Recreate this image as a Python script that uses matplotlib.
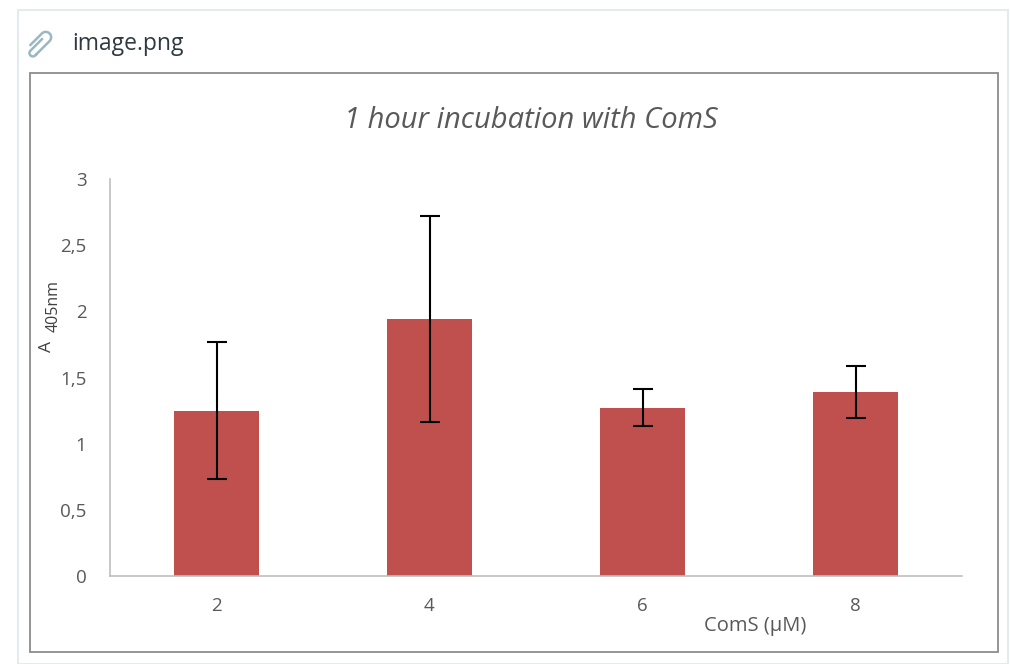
import numpy as np
import matplotlib
matplotlib.use("Agg")
import matplotlib.pyplot as plt
from matplotlib.patches import Rectangle

# data
concentrations = ["2", "4", "6", "8"]
absorbance = [1.25, 1.94, 1.27, 1.39]
errors = [0.52, 0.78, 0.14, 0.195]
yticks = [0, 0.5, 1, 1.5, 2, 2.5, 3]
ytick_labels = ["0", "0,5", "1", "1,5", "2", "2,5", "3"]

W, H = 1010, 664
fig = plt.figure(figsize=(W / 100, H / 100), dpi=100)
fig.patch.set_facecolor("white")

def fx(px):
    return px / W

def fy(py):
    return 1 - py / H

# outer panel of the screenshot
fig.patches.append(Rectangle((fx(18), fy(664)), fx(990), fy(10) - fy(664),
                             transform=fig.transFigure, fill=False,
                             edgecolor="#e3ebee", linewidth=1.5))
fig.text(fx(72), fy(44), "image.png", fontsize=16.5, color="#2f3a40",
         family="Open Sans", weight="medium", va="center", ha="left")

# little paperclip icon
t = np.linspace(0, np.pi, 30)
clip_x, clip_y, sc = 40, 43, 1.35
ang = np.deg2rad(45)
def rot(xs, ys):
    xs, ys = xs * sc, ys * sc
    xr = xs * np.cos(ang) - ys * np.sin(ang)
    yr = xs * np.sin(ang) + ys * np.cos(ang)
    return fx(clip_x + xr), fy(clip_y + yr)
outer_x = np.concatenate([np.full(2, -4.0), 4 * np.cos(np.pi - t), np.full(2, 4.0)])
outer_y = np.concatenate([[6, -6], -6 - 4 * np.sin(t), [-6, 8]])
ox, oy = rot(outer_x, outer_y)
fig.lines.append(plt.Line2D(ox, oy, transform=fig.transFigure, color="#9bb7bf", lw=1.8))
inner_x = np.concatenate([np.full(2, 4.0), 2.5 * np.cos(t) + 1.5, np.full(2, -1.0)])
inner_y = np.concatenate([[8, 9], 9 + 2.5 * np.sin(t), [9, -3]])
ix, iy = rot(inner_x, inner_y)
fig.lines.append(plt.Line2D(ix, iy, transform=fig.transFigure, color="#9bb7bf", lw=1.8))

# chart border
fig.patches.append(Rectangle((fx(30), fy(652)), fx(968), fy(73) - fy(652),
                             transform=fig.transFigure, fill=False,
                             edgecolor="#8c8c8c", linewidth=1.3))

ax = fig.add_axes([fx(110), fy(576), fx(962) - fx(110), fy(179) - fy(576)])
x = np.arange(len(concentrations))
ax.bar(x, absorbance, width=0.4, color="#c0504d", zorder=2)
ax.errorbar(x, absorbance, yerr=errors, fmt="none", ecolor="black",
            elinewidth=1.5, capsize=7, capthick=1.5, zorder=3)

ax.set_xlim(-0.5, 3.5)
ax.set_ylim(0, 3)
ax.set_xticks(x)
ax.set_xticklabels(concentrations)
ax.set_yticks(yticks)
ax.set_yticklabels(ytick_labels)
ax.tick_params(length=0, labelsize=13.5, labelcolor="#595959")
for lbl in ax.get_xticklabels() + ax.get_yticklabels():
    lbl.set_family("Open Sans")
ax.tick_params(axis="y", pad=17)
ax.tick_params(axis="x", pad=15)

for s in ["top", "right"]:
    ax.spines[s].set_visible(False)
for s in ["left", "bottom"]:
    ax.spines[s].set_color("#bfbfbf")
    ax.spines[s].set_linewidth(1.2)

fig.text(fx(531), fy(120), "1 hour incubation with ComS", fontsize=21,
         style="italic", color="#595959", family="Open Sans",
         ha="center", va="center")
# y label: "A" with subscript "405nm"
fig.text(fx(47), fy(346), "A", fontsize=12.5, rotation=90, color="#404040",
         family="Open Sans", ha="center", va="center")
fig.text(fx(54), fy(306), "405nm", fontsize=11.5, rotation=90, color="#404040",
         family="Open Sans", ha="center", va="center")
fig.text(fx(755), fy(626), "ComS (µM)", fontsize=14.5, color="#595959",
         family="Open Sans", ha="center", va="center")

fig.savefig("out.png", dpi=100)
